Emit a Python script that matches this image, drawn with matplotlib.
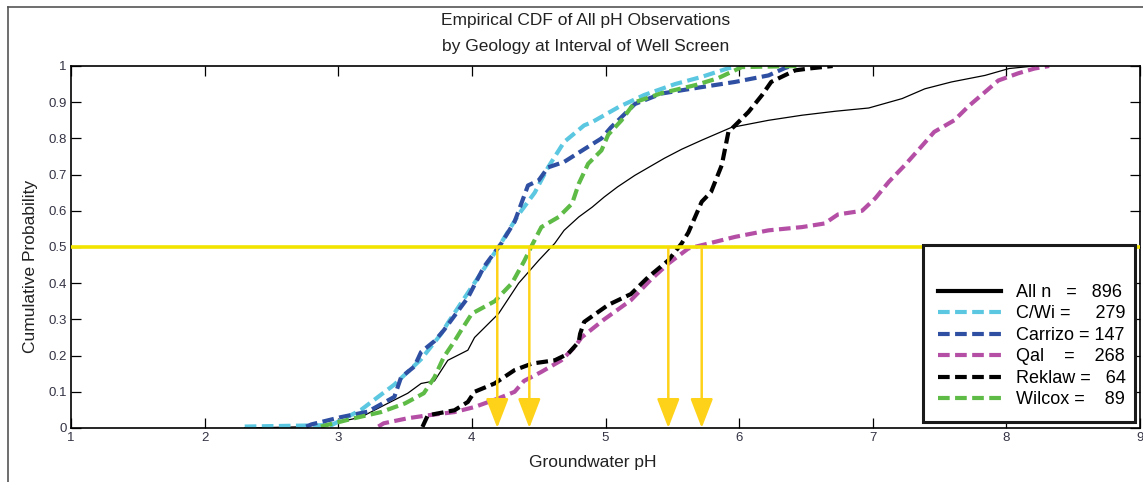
import matplotlib
matplotlib.use("Agg")
import matplotlib.pyplot as plt
from matplotlib.lines import Line2D
from matplotlib.patches import Rectangle

plt.rcParams['font.family'] = ['Liberation Sans', 'DejaVu Sans']

# ---------------- data ----------------
all_ph = [2.30, 2.70, 2.95, 3.17, 3.37, 3.52, 3.62, 3.72, 3.82, 3.97, 4.02, 4.20, 4.35, 4.50,
          4.62, 4.69, 4.80, 4.90, 4.99, 5.09, 5.22, 5.44, 5.57, 5.72, 5.94, 6.22, 6.47, 6.72,
          6.97, 7.22, 7.39, 7.59, 7.84, 8.02, 8.21]
all_p = [0.0, 0.003, 0.012, 0.03, 0.068, 0.096, 0.123, 0.13, 0.187, 0.215, 0.25, 0.316, 0.40, 0.463,
         0.51, 0.546, 0.583, 0.61, 0.638, 0.666, 0.698, 0.745, 0.77, 0.795, 0.83, 0.85, 0.864, 0.875,
         0.884, 0.91, 0.937, 0.956, 0.974, 0.993, 1.0]

cwi_ph = [2.30, 2.95, 3.17, 3.42, 3.62, 3.77, 3.82, 4.00, 4.20, 4.35, 4.47, 4.57, 4.69, 4.84,
          4.90, 5.10, 5.29, 5.52, 5.72, 5.92, 6.02]
cwi_p = [0.004, 0.008, 0.05, 0.12, 0.19, 0.26, 0.29, 0.39, 0.50, 0.59, 0.65, 0.72, 0.79, 0.836,
         0.845, 0.887, 0.92, 0.95, 0.97, 0.994, 1.0]

car_ph = [2.76, 2.80, 3.02, 3.22, 3.42, 3.47, 3.57, 3.62, 3.72, 3.79, 3.97, 4.09, 4.22, 4.32,
          4.39, 4.42, 4.50, 4.57, 4.69, 4.84, 4.97, 5.04, 5.22, 5.42, 5.69, 5.97, 6.22, 6.34, 6.39]
car_p = [0.004, 0.01, 0.03, 0.045, 0.086, 0.14, 0.17, 0.21, 0.24, 0.27, 0.36, 0.445, 0.51, 0.57,
         0.64, 0.67, 0.684, 0.72, 0.735, 0.77, 0.80, 0.83, 0.895, 0.924, 0.94, 0.956, 0.974, 0.994, 1.0]

qal_ph = [3.30, 3.34, 3.52, 3.67, 3.87, 4.02, 4.20, 4.32, 4.39, 4.52, 4.67, 4.77, 4.82, 4.99,
          5.19, 5.34, 5.47, 5.62, 5.72, 5.97, 6.22, 6.47, 6.64, 6.74, 6.92, 7.02, 7.12, 7.24,
          7.37, 7.46, 7.61, 7.72, 7.84, 7.94, 8.09, 8.21, 8.32]
qal_p = [0.004, 0.013, 0.027, 0.035, 0.044, 0.058, 0.082, 0.10, 0.13, 0.155, 0.187, 0.224, 0.25, 0.30,
         0.353, 0.41, 0.454, 0.496, 0.505, 0.528, 0.546, 0.555, 0.565, 0.59, 0.60, 0.635, 0.68, 0.726,
         0.78, 0.818, 0.85, 0.89, 0.928, 0.96, 0.98, 0.993, 1.0]

rek_ph = [3.63, 3.67, 3.87, 3.97, 4.02, 4.17, 4.32, 4.45, 4.62, 4.72, 4.80, 4.81, 4.84, 5.02,
          5.19, 5.32, 5.47, 5.57, 5.62, 5.72, 5.79, 5.87, 5.92, 5.97, 6.07, 6.17, 6.24, 6.34,
          6.42, 6.52, 6.70]
rek_p = [0.003, 0.035, 0.049, 0.072, 0.10, 0.123, 0.16, 0.178, 0.187, 0.205, 0.238, 0.26, 0.293, 0.34,
         0.37, 0.417, 0.463, 0.51, 0.54, 0.625, 0.652, 0.726, 0.818, 0.836, 0.873, 0.919, 0.956, 0.974,
         0.988, 0.993, 1.0]

wil_ph = [2.87, 3.12, 3.32, 3.50, 3.64, 3.72, 3.79, 3.87, 3.92, 4.00, 4.17, 4.30, 4.39, 4.45,
          4.52, 4.65, 4.75, 4.80, 4.87, 4.97, 5.02, 5.12, 5.22, 5.42, 5.67, 5.84, 6.02, 6.45]
wil_p = [0.004, 0.027, 0.044, 0.068, 0.096, 0.14, 0.196, 0.24, 0.27, 0.316, 0.35, 0.40, 0.46, 0.505,
         0.555, 0.583, 0.62, 0.675, 0.73, 0.767, 0.81, 0.85, 0.90, 0.925, 0.947, 0.966, 0.997, 1.0]

labels = ["All n   =   896", "C/Wi =     279", "Carrizo = 147",
          "Qal    =    268", "Reklaw =   64", "Wilcox =    89"]
median_level = 0.5
median_ph = [4.19, 4.43, 5.47, 5.72]

x_ticks = [1, 2, 3, 4, 5, 6, 7, 8, 9]
y_ticks = [0, 0.1, 0.2, 0.3, 0.4, 0.5, 0.6, 0.7, 0.8, 0.9, 1.0]
y_ticklabels = ["0", "0.1", "0.2", "0.3", "0.4", "0.5", "0.6", "0.7", "0.8", "0.9", "1"]

# ---------------- figure ----------------
W, H = 1143, 482
fig = plt.figure(figsize=(W / 100, H / 100), dpi=100)
fig.patch.set_facecolor('white')

# outer frame lines (top and left)
fig.add_artist(Line2D([8 / W, 1.0], [1 - 7 / H, 1 - 7 / H], color='#555555', lw=1.2))
fig.add_artist(Line2D([8 / W, 8 / W], [0, 1 - 7 / H], color='#555555', lw=1.2))

ax = fig.add_axes([71 / W, 1 - 428 / H, (1140 - 71) / W, (428 - 66) / H])

dash = (0, (2.8, 1.3))
lw_d = 3.0
ax.plot(all_ph, all_p, color='black', lw=0.9, label=labels[0], zorder=2)
ax.plot(cwi_ph, cwi_p, color='#5CC7E0', lw=lw_d, ls=dash, label=labels[1], zorder=2)
ax.plot(car_ph, car_p, color='#2F4FA3', lw=lw_d, ls=dash, label=labels[2], zorder=2)
ax.plot(qal_ph, qal_p, color='#B54FA6', lw=lw_d, ls=dash, label=labels[3], zorder=2)
ax.plot(rek_ph, rek_p, color='black', lw=lw_d, ls=dash, label=labels[4], zorder=2)
ax.plot(wil_ph, wil_p, color='#5DBB46', lw=lw_d, ls=dash, label=labels[5], zorder=2)

# median line and arrows
ax.axhline(median_level, color='#F2E300', lw=2.6, zorder=3)
for m in median_ph:
    ax.annotate('', xy=(m, 0.0), xytext=(m, median_level),
                arrowprops=dict(arrowstyle='-|>,head_length=1.3,head_width=0.5',
                                color='#FFD21A', lw=1.8, shrinkA=0, shrinkB=0,
                                mutation_scale=14),
                zorder=4)

ax.set_xlim(1, 9)
ax.set_ylim(0, 1)
ax.set_xticks(x_ticks)
ax.set_xticklabels([str(v) for v in x_ticks])
ax.set_yticks(y_ticks)
ax.set_yticklabels(y_ticklabels)
ax.tick_params(direction='in', length=7, width=0.9, top=True, right=True,
               labelsize=9.5, pad=3, colors='black', labelcolor='#333344')
for s in ax.spines.values():
    s.set_linewidth(1.2)
    s.set_color('black')

# legend box
ax.add_patch(Rectangle((0.797, 0.0166), 0.9953 - 0.797, 0.5055 - 0.0166,
                       transform=ax.transAxes, facecolor='white', edgecolor='#1a1a1a',
                       lw=2.2, zorder=5))
leg = ax.legend(loc='upper left', bbox_to_anchor=(0.811, 0.398), frameon=False,
                fontsize=13, handlelength=3.5, handletextpad=0.8, labelspacing=0.25,
                borderpad=0, borderaxespad=0)
leg.set_zorder(6)
leg.get_lines()[0].set_linewidth(3.0)

# texts
fig.text(586 / W, 1 - 20 / H, "Empirical CDF of All pH Observations",
         ha='center', va='center', fontsize=12.5, color='#222222')
fig.text(586 / W, 1 - 47 / H, "by Geology at Interval of Well Screen",
         ha='center', va='center', fontsize=12.5, color='#222222')
fig.text(593 / W, 1 - 463 / H, "Groundwater pH", ha='center', va='center',
         fontsize=12.5, color='#222222')
fig.text(31 / W, 1 - 266 / H, "Cumulative Probability", ha='center', va='center',
         rotation=90, fontsize=12.5, color='#222222')

fig.savefig("out.png", dpi=100)
